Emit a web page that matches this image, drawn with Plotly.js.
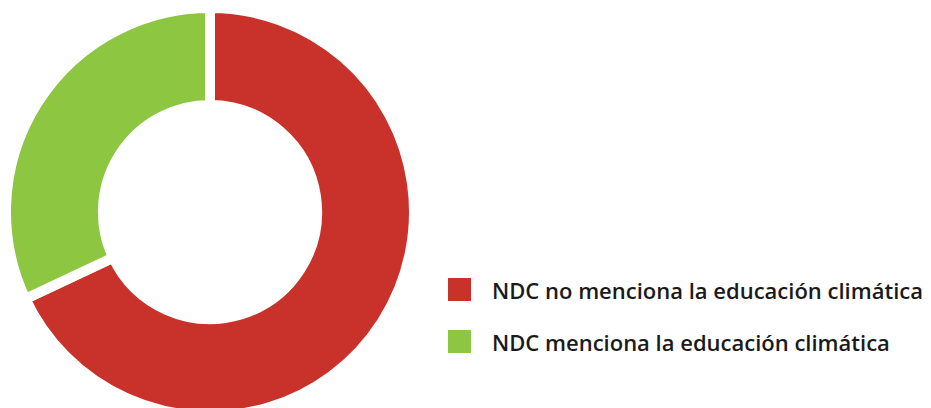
<!DOCTYPE html>
<html>
<head>
<meta charset="utf-8">
<script src="https://cdn.plot.ly/plotly-3.0.1.min.js"></script>
<style>
  html, body { margin: 0; padding: 0; overflow: hidden; background: #fff; }
</style>
</head>
<body>
<div id="plot"></div>
<script>
// NDC y educación climática
var labels = ["NDC no menciona la educación climática", "NDC menciona la educación climática"];
var values = [68, 32];
var colors = ["#c9322a", "#8dc641"];

var W = 931, H = 424;

var trace = {
  type: "pie",
  labels: labels,
  values: values,
  hole: 0.525,
  sort: false,
  direction: "clockwise",
  rotation: 0,
  textinfo: "none",
  hoverinfo: "label+percent",
  marker: { colors: colors, line: { color: "#ffffff", width: 10 } },
  domain: { x: [6 / W, 414 / W], y: [0, 1] },
  showlegend: false
};

// legend drawn as squares + labels
var shapes = [];
var annotations = [];
labels.forEach(function (lab, i) {
  var cy = 289.5 + i * 52;
  shapes.push({
    type: "rect", xref: "paper", yref: "paper",
    x0: 448 / W, x1: 471 / W,
    y0: 1 - (cy - 8 + 11.5) / 408, y1: 1 - (cy - 8 - 11.5) / 408,
    fillcolor: colors[i], line: { width: 0 }
  });
  annotations.push({
    xref: "paper", yref: "paper",
    x: 490 / W, y: 1 - (cy - 8) / 408,
    xanchor: "left", yanchor: "middle",
    text: lab, showarrow: false,
    font: { family: "Open Sans", size: 22, color: "#1a1a1a", weight: 600 }
  });
});

var layout = {
  width: W,
  height: H,
  margin: { l: 0, r: 0, t: 8, b: 8 },
  paper_bgcolor: "#ffffff",
  shapes: shapes,
  annotations: annotations,
  showlegend: false
};

Plotly.newPlot("plot", [trace], layout, { displayModeBar: false, staticPlot: true });
</script>
</body>
</html>
